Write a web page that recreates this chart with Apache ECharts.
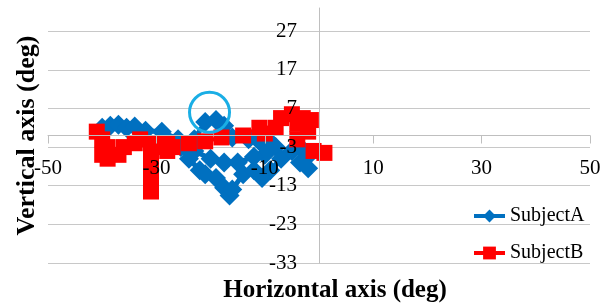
<!DOCTYPE html>
<html>
<head>
<meta charset="utf-8">
<script src="https://cdn.jsdelivr.net/npm/echarts@6/dist/echarts.min.js"></script>
<style>
  html, body { margin: 0; padding: 0; background: #fff; }
  #chart { width: 616px; height: 307px; }
</style>
</head>
<body>
<div id="chart"></div>
<script>
// gaze points (deg)
var subjectA = [
  [-40, 2], [-38.5, 2.5], [-37, 2.8], [-35.5, 2], [-34, 2.3], [-32, 1.2], [-29, 1],
  [-26, -1], [-23, -1], [-21, 3.5], [-19, 4], [-17.5, 2.5], [-16, -0.5], [-13, -1],
  [-11, -1.5], [-9.5, -1], [-8, -3], [-10, -5], [-12, -5.5], [-15, -7], [-17.5, -7],
  [-20, -6], [-23, -4], [-25.5, -3], [-24, -6], [-22, -9], [-21, -10], [-19, -11],
  [-17.5, -13.5], [-16.5, -15.5], [-16, -14], [-14, -10], [-12, -9], [-10.5, -11],
  [-9, -9], [-7, -6], [-5, -4], [-3.5, -3], [-2.5, -6], [-2, -8.5], [-3.5, -7]
]
var subjectB = [
  [-41, 1], [-40, -1], [-39, -3], [-40, -5], [-39, -6], [-37, -5], [-36, -3],
  [-34, -2], [-33, -1], [-31, -2], [-30, -3], [-28, -4], [-27, -3], [-29, -2],
  [-31, -4], [-31, -8], [-31, -11], [-31, -14.5], [-31, -12], [-31, -6], [-28, -2],
  [-24, -2], [-21, -1.5], [-18, -0.5], [-14, 0], [-11, 2], [-10, 0.5], [-8, 2],
  [-7, 4.5], [-5, 5.5], [-4, 3], [-3, 4.5], [-1.5, 4], [-2, 1], [-4, -1], [-1, -4],
  [1, -4.5]
]
var highlight = [-20.2, 6]

var font = 'Liberation Serif'
var gridPos = { left: 48, right: 26, top: 8, bottom: 44, containLabel: false, outerBoundsMode: 'none' }
var chart = echarts.init(document.getElementById('chart'))
var option = {
  animation: false,
  // grid 0: marks, axes and labels (labels above the marks); grid 1: gridlines only, below the marks
  grid: [Object.assign({}, gridPos), Object.assign({}, gridPos)],
  legend: {
    orient: 'vertical',
    left: 467,
    top: 201,
    itemWidth: 31,
    itemHeight: 16,
    itemGap: 17,
    lineStyle: { width: 4 },
    textStyle: { fontFamily: font, fontSize: 20, color: '#000' },
    data: ['SubjectA', 'SubjectB']
  },
  xAxis: [
    {
      type: 'value',
      gridIndex: 0,
      min: -50,
      max: 50,
      interval: 20,
      z: 10,
      offset: -127.5, // the axis crosses at y = 0
      axisLine: { onZero: false, lineStyle: { color: '#bfbfbf' } },
      axisTick: { show: true, length: 8, lineStyle: { color: '#bfbfbf' } },
      axisLabel: { margin: 22, fontFamily: font, fontSize: 21, color: '#000' },
      splitLine: { show: false },
      name: 'Horizontal axis (deg)',
      nameLocation: 'middle',
      nameGap: 143,
      nameTextStyle: { fontFamily: font, fontSize: 25, fontWeight: 'bold', color: '#000', padding: [0, 0, 0, 32] }
    },
    {
      type: 'value',
      gridIndex: 1,
      min: -50,
      max: 50,
      show: false
    }
  ],
  yAxis: [
    {
      type: 'value',
      gridIndex: 0,
      min: -33,
      max: 33,
      interval: 10,
      z: 10,
      offset: -271, // the axis crosses at x = 0
      axisLine: { onZero: false, lineStyle: { color: '#bfbfbf' } },
      axisTick: { show: false },
      axisLabel: { margin: 22, showMaxLabel: false, fontFamily: font, fontSize: 21, color: '#000' },
      splitLine: { show: false },
      name: 'Vertical axis (deg)',
      nameLocation: 'middle',
      nameGap: 279,
      nameTextStyle: { fontFamily: font, fontSize: 26, fontWeight: 'bold', color: '#000' }
    },
    {
      type: 'value',
      gridIndex: 1,
      min: -33,
      max: 33,
      interval: 10,
      z: 0,
      axisLine: { show: false },
      axisTick: { show: false },
      axisLabel: { show: false },
      splitLine: { show: true, showMaxLine: false, lineStyle: { color: '#c8c8c8' } }
    }
  ],
  series: [
    {
      name: 'SubjectA',
      type: 'line',
      xAxisIndex: 0,
      yAxisIndex: 0,
      data: subjectA,
      symbol: 'diamond',
      symbolSize: 20,
      color: '#0070c0',
      lineStyle: { width: 5, color: '#0070c0' },
      itemStyle: { color: '#0070c0' },
      markPoint: {
        symbol: 'circle',
        symbolSize: 40,
        silent: true,
        label: { show: false },
        itemStyle: { color: 'rgba(0,0,0,0)', borderColor: '#1aaee5', borderWidth: 3 },
        data: [{ coord: highlight }]
      }
    },
    {
      name: 'SubjectB',
      type: 'line',
      xAxisIndex: 0,
      yAxisIndex: 0,
      data: subjectB,
      symbol: 'rect',
      symbolSize: 16,
      color: '#ff0000',
      lineStyle: { width: 4, color: '#ff0000' },
      itemStyle: { color: '#ff0000' }
    }
  ]
}
chart.setOption(option)
</script>
</body>
</html>
